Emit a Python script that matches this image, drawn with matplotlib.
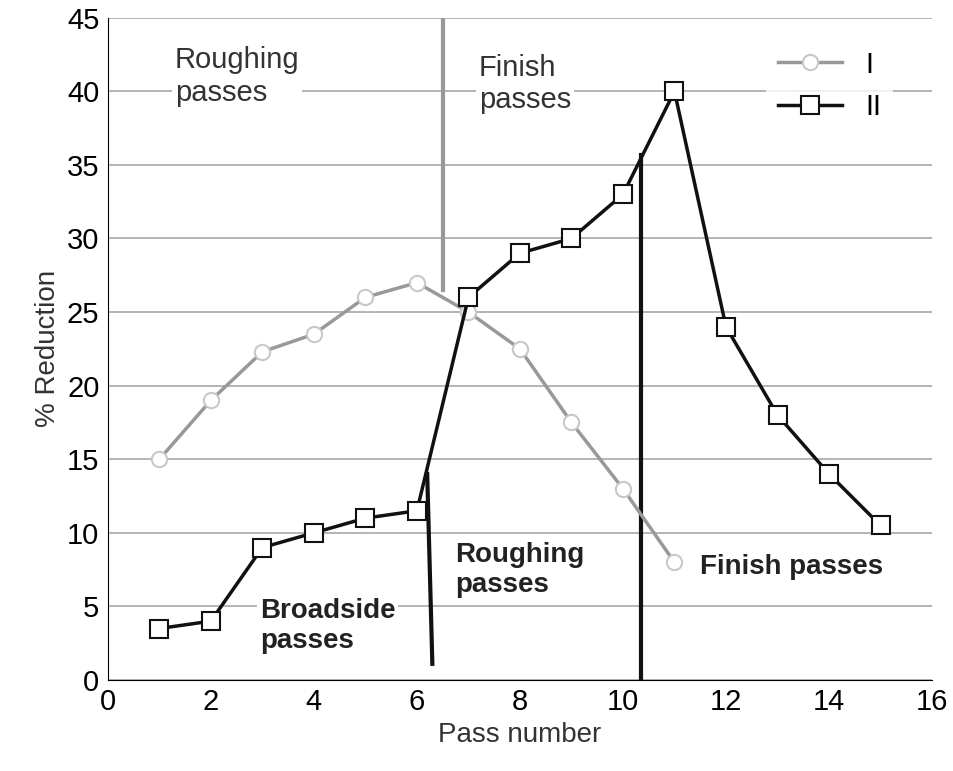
import matplotlib
matplotlib.use("Agg")
import matplotlib.pyplot as plt
plt.rcParams["font.family"] = "Liberation Sans"

x1 = [1, 2, 3, 4, 5, 6, 7, 8, 9, 10, 11]
y1 = [15, 19, 22.3, 23.5, 26, 27, 25, 22.5, 17.5, 13, 8]
x2 = [1, 2, 3, 4, 5, 6, 7, 8, 9, 10, 11, 12, 13, 14, 15]
y2 = [3.5, 4, 9, 10, 11, 11.5, 26, 29, 30, 33, 40, 24, 18, 14, 10.5]

fig = plt.figure(figsize=(9.54, 7.71), dpi=100)
ax = fig.add_axes([0.113, 0.118, 0.864, 0.859])
ax.set_xlim(0, 16)
ax.set_ylim(0, 45)
ax.set_xticks(range(0, 17, 2))
ax.set_yticks(range(0, 46, 5))
ax.yaxis.grid(True, color="#a8a8a8", lw=1.2)
ax.set_axisbelow(True)
for s in ["top", "right"]:
    ax.spines[s].set_visible(False)
ax.tick_params(labelsize=21, length=0, pad=6)
ax.set_xlabel("Pass number", fontsize=20, color="#333")
ax.set_ylabel("% Reduction", fontsize=20, color="#333")

bb = dict(facecolor="white", edgecolor="none", pad=2)
ax.text(1.3, 41, "Roughing\npasses", fontsize=21, color="#333", va="center", bbox=bb)
ax.text(7.2, 40.5, "Finish\npasses", fontsize=21, color="#333", va="center", bbox=bb)
ax.text(2.95, 3.7, "Broadside\npasses", fontsize=20, fontweight="bold", color="#222", va="center", bbox=bb)
ax.text(6.75, 7.5, "Roughing\npasses", fontsize=20, fontweight="bold", color="#222", va="center", bbox=bb)
ax.text(11.5, 7.7, "Finish passes", fontsize=20, fontweight="bold", color="#222", va="center", bbox=bb)

ax.plot([6.5, 6.5], [26.5, 45], color="#999", lw=3, zorder=3)
ax.plot([6.2, 6.3], [14, 1.1], color="#111", lw=3, zorder=3)
ax.plot([10.35, 10.35], [35.7, 0], color="#111", lw=3, zorder=3)

ax.plot(x1, y1, color="#999", lw=2.5, marker="o", ms=11, mfc="white", mec="#c8c8c8", mew=1.5, label="I", zorder=4)
ax.plot(x2, y2, color="#111", lw=2.5, marker="s", ms=13, mfc="white", mec="#111", mew=1.5, label="II", zorder=5)

leg = ax.legend(loc="upper right", bbox_to_anchor=(0.97, 0.99), fontsize=21, frameon=True, handlelength=2.2)
leg.get_frame().set_edgecolor("none")
fig.savefig("out.png", dpi=100)
